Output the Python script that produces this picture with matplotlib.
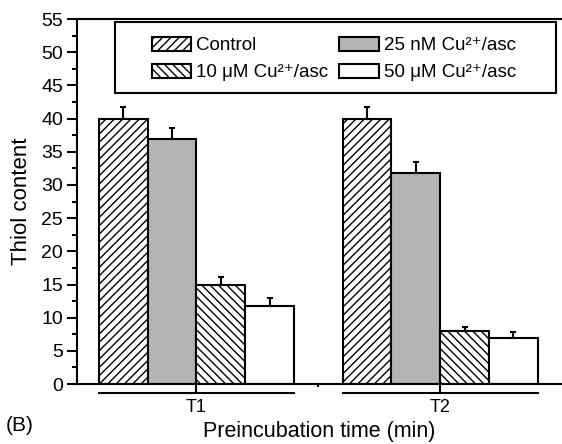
import numpy as np
import matplotlib.pyplot as plt
from matplotlib.patches import Rectangle
from matplotlib.ticker import MultipleLocator, FixedLocator

plt.rcParams['font.family'] = ['Liberation Sans', 'DejaVu Sans']
plt.rcParams['hatch.linewidth'] = 1.0

# Data
groups = ['T1', 'T2']
series = ['Control', '25 nM Cu²⁺/asc', '10 μM Cu²⁺/asc', '50 μM Cu²⁺/asc']
control = [40.0, 40.0]
cu25nm = [37.0, 31.8]
cu10um = [15.0, 8.0]
cu50um = [11.8, 7.0]
control_err = [1.8, 1.7]
cu25nm_err = [1.6, 1.6]
cu10um_err = [1.1, 0.6]
cu50um_err = [1.1, 0.8]

values = [control, cu25nm, cu10um, cu50um]
errors = [control_err, cu25nm_err, cu10um_err, cu50um_err]
hatches = ['////', '', '\\\\\\\\', '']
colors = ['white', '#b4b4b4', 'white', 'white']

fig = plt.figure(figsize=(5.62, 4.44), dpi=100)
ax = fig.add_axes([0.137, 0.135, 0.863, 0.822])

x = np.arange(1, len(groups) + 1)
width = 0.2
handles = []
for i in range(4):
    pos = x + (i - 1.5) * width
    b = ax.bar(pos, values[i], width, color=colors[i], edgecolor='black',
               linewidth=1.5, hatch=hatches[i], label=series[i], zorder=2)
    ax.errorbar(pos, values[i], yerr=[np.zeros(len(groups)), errors[i]], fmt='none',
                ecolor='black', elinewidth=1.5, capsize=2.5, capthick=1.5, zorder=3)
    handles.append(b)

ax.set_xlim(0.51, 2.5)
ax.set_ylim(0, 55)
ax.yaxis.set_major_locator(MultipleLocator(5))
ax.yaxis.set_minor_locator(MultipleLocator(2.5))
ax.set_xticks(x)
ax.set_xticklabels(groups)
ax.xaxis.set_minor_locator(FixedLocator([1.5]))
ax.tick_params(axis='y', which='major', direction='out', length=7, width=1.5, labelsize=14, pad=3)
ax.tick_params(axis='y', which='minor', direction='out', length=3.6, width=1.5)
ax.tick_params(axis='x', which='major', direction='out', length=7, width=1.5, labelsize=13, pad=4)
ax.tick_params(axis='x', which='minor', direction='out', length=2.5, width=1.5)

for s in ['left', 'top', 'bottom']:
    ax.spines[s].set_linewidth(1.5)
ax.spines['right'].set_visible(False)

# group lines under the x axis
for xc in x:
    ax.plot([xc - 2 * width, xc + 2 * width], [-0.025, -0.025], color='black', lw=1.5,
            transform=ax.get_xaxis_transform(), clip_on=False)

ax.set_ylabel('Thiol content', fontsize=16, labelpad=7)
ax.set_xlabel('Preincubation time (min)', fontsize=15.5, labelpad=3)
fig.text(0.01, 0.03, '(B)', fontsize=15)

# legend frame box (Origin style, wide padding)
ax.add_patch(Rectangle((115 / 562, 1 - 93 / 444), 441 / 562, 71 / 444,
                       transform=fig.transFigure, facecolor='white',
                       edgecolor='black', linewidth=1.5, zorder=4, clip_on=False))

order = [0, 2, 1, 3]
leg = ax.legend([handles[i] for i in order], [series[i] for i in order], ncol=2,
                loc='upper left', bbox_to_anchor=(152 / 562, 1 - 37 / 444),
                bbox_transform=fig.transFigure, fontsize=13.5, frameon=False,
                handlelength=2.1, handleheight=0.75, handletextpad=0.25,
                columnspacing=0.6, borderpad=0, borderaxespad=0, labelspacing=0.5)
leg.set_zorder(5)

plt.savefig('out.png', dpi=100)
